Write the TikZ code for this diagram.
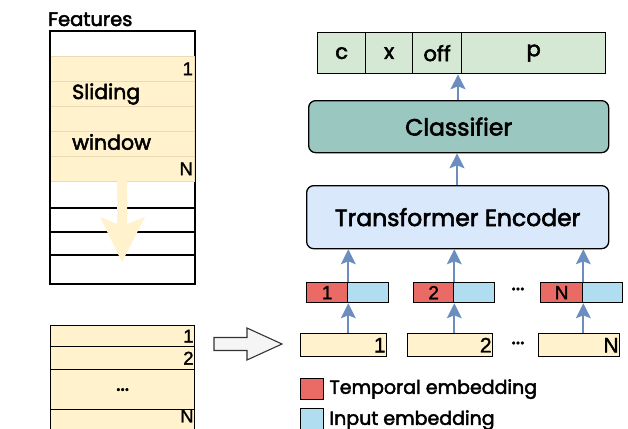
\documentclass[tikz,border=0pt]{standalone}
\usepackage{fontspec}
\setmainfont{Poppins}[FakeBold=2.5]
\newfontfamily\numfont{Liberation Sans}[FakeBold=1.5]
\usetikzlibrary{arrows.meta}

\definecolor{winfill}{HTML}{FFF2CC}
\definecolor{winline}{HTML}{EADBB4}
\definecolor{outfill}{HTML}{D5E8D4}
\definecolor{clsfill}{HTML}{9AC7BF}
\definecolor{encfill}{HTML}{DAE8FC}
\definecolor{tmpfill}{HTML}{EA6B66}
\definecolor{inpfill}{HTML}{B1DDF0}
\definecolor{flowblue}{HTML}{6C8EBF}
\definecolor{hollowfill}{HTML}{F5F5F5}

\tikzset{
  cell/.style={draw=black, line width=1.3pt, inner sep=0pt, anchor=north west},
  softcell/.style={draw=winline, line width=0.6pt, fill=winfill, inner sep=0pt, anchor=north west},
  block/.style={draw=black, line width=1.3pt, rounded corners=7pt, inner sep=0pt, anchor=north west},
  flow/.style={draw=flowblue, line width=1.7pt, -{Stealth[length=15pt,width=15pt,inset=3pt]}},
  numlabel/.style={font=\numfont\fontsize{18.5}{19}\selectfont, inner sep=1.5pt, anchor=east},
  lbl/.style={font=\fontsize{20.5}{21}\selectfont, inner sep=0pt},
}

\begin{document}
\begin{tikzpicture}[x=1pt, y=-1pt]
\useasboundingbox (0,0) rectangle (628,428);
\clip (0,0) rectangle (628,428);

% ---------- feature column with sliding window ----------
\node[font=\fontsize{19.5}{20}\selectfont, inner sep=0pt, anchor=base west] (featlbl) at (48,26) {Features};
\node[cell, fill=white, minimum width=144, minimum height=252] (featcol) at (50,31) {};
\node[softcell, minimum width=144, minimum height=25] (w1) at (50,56) {};
\node[softcell, minimum width=144, minimum height=25] (w2) at (50,81) {};
\node[softcell, minimum width=144, minimum height=25] (w3) at (50,106) {};
\node[softcell, minimum width=144, minimum height=25] (w4) at (50,131) {};
\node[softcell, minimum width=144, minimum height=25] (w5) at (50,156) {};
\node[numlabel] at (w1.east) {1};
\node[numlabel] at (w5.east) {N};
\node[lbl, anchor=west] (slid) at (72,94) {Sliding};
\node[lbl, anchor=west] (wind) at (72,142) {window};
\draw[line width=1.3pt] (50,208) -- (194,208) (50,232) -- (194,232) (50,255) -- (194,255);
\draw[line width=1.3pt] (featcol.north west) rectangle (featcol.south east);
% slide direction
\fill[winfill] (117,181) -- (117,224) -- (100,217) -- (122,262) -- (145,217) -- (127,224) -- (127,181) -- cycle;

% ---------- stacked windows ----------
\node[cell, fill=winfill, minimum width=144, minimum height=21] (s1) at (50,325) {};
\node[cell, fill=winfill, minimum width=144, minimum height=23] (s2) at (50,346) {};
\node[cell, fill=winfill, minimum width=144, minimum height=40] (s3) at (50,369) {};
\node[cell, fill=winfill, minimum width=144, minimum height=30] (s4) at (50,409) {};
\node[numlabel] at (s1.east) {1};
\node[numlabel] at (s2.east) {2};
\node[lbl] at (s3.center) {...};
\node[numlabel, anchor=north east] at ([yshift=1pt]s4.north east) {N};

% hand-over arrow
\coordinate (feedtail) at (214,344);
\coordinate (feedtip) at (282,344);
\draw[draw=black!80, line width=1.1pt, fill=hollowfill]
  (feedtail |- 0,337.5) -- (247,337.5) -- (247,328) -- (feedtip) -- (247,360) -- (247,350.5) -- (feedtail |- 0,350.5) -- cycle;

% ---------- input windows ----------
\node[cell, fill=winfill, minimum width=86, minimum height=23] (in1) at (300,333) {};
\node[cell, fill=winfill, minimum width=85, minimum height=23] (in2) at (407,333) {};
\node[cell, fill=winfill, minimum width=81, minimum height=23] (inN) at (538,333) {};
\node[numlabel, font=\numfont\fontsize{21}{21}\selectfont] at (in1.east) {1};
\node[numlabel, font=\numfont\fontsize{21}{21}\selectfont] at (in2.east) {2};
\node[numlabel, font=\numfont\fontsize{21}{21}\selectfont] at (inN.east) {N};
\node[lbl] (dotsa) at (518,343) {...};

% ---------- embeddings ----------
\node[cell, fill=tmpfill, minimum width=41, minimum height=20] (t1) at (306,282) {};
\node[cell, fill=inpfill, minimum width=41, minimum height=20] (e1) at (347,282) {};
\node[cell, fill=tmpfill, minimum width=40, minimum height=20] (t2) at (413,282) {};
\node[cell, fill=inpfill, minimum width=41, minimum height=20] (e2) at (453,282) {};
\node[cell, fill=tmpfill, minimum width=42, minimum height=20] (tN) at (540,282) {};
\node[cell, fill=inpfill, minimum width=40, minimum height=20] (eN) at (582,282) {};
\node[font=\numfont\fontsize{19}{19}\selectfont, inner sep=0pt] at (t1.center) {1};
\node[font=\numfont\fontsize{19}{19}\selectfont, inner sep=0pt] at (t2.center) {2};
\node[font=\numfont\fontsize{19}{19}\selectfont, inner sep=0pt] at (tN.center) {N};
\node[lbl] (dotsb) at (518,289) {...};

% ---------- encoder, classifier, outputs ----------
\node[block, fill=encfill, minimum width=302, minimum height=63,
      font=\fontsize{23.5}{24}\selectfont] (enc) at (306,185) {Transformer Encoder};
\node[block, fill=clsfill, minimum width=300, minimum height=52,
      font=\fontsize{23.5}{24}\selectfont] (cls) at (308,100) {Classifier};

\node[cell, fill=outfill, minimum width=48, minimum height=41, font=\fontsize{21}{21}\selectfont] (oc) at (317,32) {c};
\node[cell, fill=outfill, minimum width=47, minimum height=41, font=\fontsize{21}{21}\selectfont] (ox) at (365,32) {x};
\node[cell, fill=outfill, minimum width=49, minimum height=41, font=\fontsize{21}{21}\selectfont] (ooff) at (412,32) {off};
\node[cell, fill=outfill, minimum width=144, minimum height=41, font=\fontsize{21}{21}\selectfont] (op) at (461,32) {p};

% ---------- data flow ----------
\draw[flow] (in1.north -| t1.east) -- (t1.south east);
\draw[flow] (in2.north -| t2.east) -- (t2.south east);
\draw[flow] (inN.north -| tN.east) -- (tN.south east);
\draw[flow] (t1.north east) -- (enc.south -| t1.east);
\draw[flow] (t2.north east) -- (enc.south -| t2.east);
\draw[flow] (tN.north east) -- (enc.south -| tN.east);
\draw[flow] (enc.north -| 457,0) -- (cls.south -| 457,0);
\draw[flow] (cls.north -| 458,0) -- (op.south west -| 458,0);

% ---------- legend ----------
\node[cell, fill=tmpfill, minimum width=23, minimum height=21] (legt) at (300,378) {};
\node[cell, fill=inpfill, minimum width=23, minimum height=21] (lege) at (300,408) {};
\node[font=\fontsize{19}{19}\selectfont, anchor=west, inner sep=0pt] at ([xshift=5pt]legt.east) {Temporal embedding};
\node[font=\fontsize{19}{19}\selectfont, anchor=west, inner sep=0pt] at ([xshift=5pt,yshift=-1pt]lege.east) {Input embedding};
\end{tikzpicture}
\end{document}
